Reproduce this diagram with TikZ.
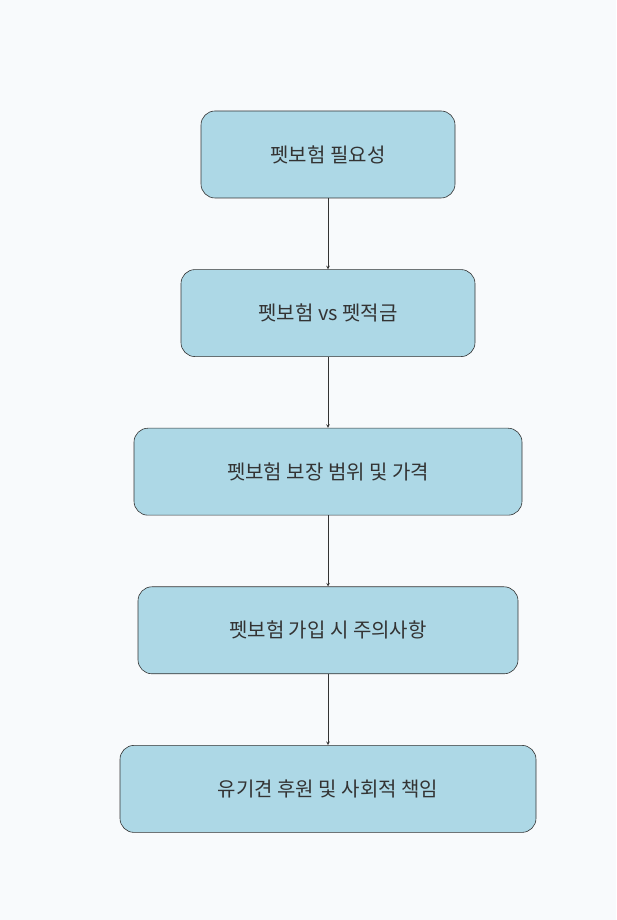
\documentclass[tikz,border=0pt]{standalone}
\usepackage{fontspec}
\newfontfamily\cjk{Noto Sans CJK KR}
\usetikzlibrary{arrows, positioning}
\definecolor{boxfill}{HTML}{ADD8E6}
\definecolor{boxline}{HTML}{333333}
\definecolor{bgcol}{HTML}{F8FAFC}
\begin{document}
\begin{tikzpicture}[
            x = 1pt, y = 1pt,
            > = stealth, % arrow head style
            node distance = 71pt, % gap between boxes
            semithick % line style
        ]

        \tikzstyle{topic}=[
            draw = boxline,
            fill = boxfill,
            rounded corners = 14pt,
            minimum height = 87pt,
            inner sep = 0pt,
            font = \cjk\fontsize{20}{24}\selectfont,
            text = boxline
        ]

	\fill[bgcol] (0,0) rectangle (616,920);
	\useasboundingbox (0,0) rectangle (616,920);

	\node[topic, minimum width=254pt] (1) at (328,765.5) {펫보험 필요성};
	\node[topic, minimum width=294pt] (2) [below=of 1] {펫보험 vs 펫적금};
	\node[topic, minimum width=388pt] (3) [below=of 2] {펫보험 보장 범위 및 가격};
	\node[topic, minimum width=380pt] (4) [below=of 3] {펫보험 가입 시 주의사항};
	\node[topic, minimum width=416pt] (5) [below=of 4] {유기견 후원 및 사회적 책임};

        \draw[->, boxline] (1) -- (2);
        \draw[->, boxline] (2) -- (3);
        \draw[->, boxline] (3) -- (4);
        \draw[->, boxline] (4) -- (5);

    \end{tikzpicture}
\end{document}
